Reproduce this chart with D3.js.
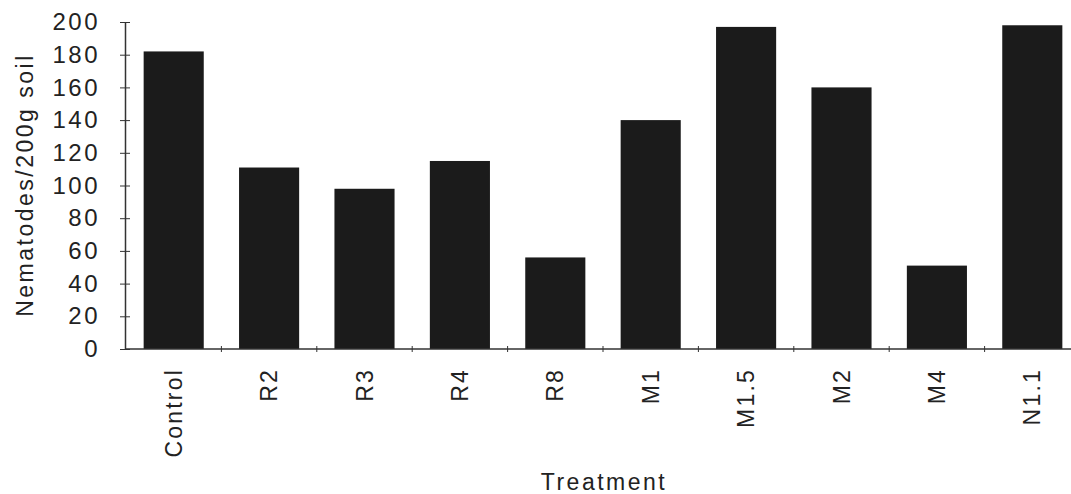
<!DOCTYPE html>
<html>
<head>
<meta charset="utf-8">
<script src="https://cdn.jsdelivr.net/npm/d3@7"></script>
<style>
  body { margin: 0; background: #fff; }
  svg text { font-family: "Liberation Sans", Arial, sans-serif; fill: #222; }
</style>
</head>
<body>
<svg></svg>
<script>
const treatments = ['Control', 'R2', 'R3', 'R4', 'R8', 'M1', 'M1.5', 'M2', 'M4', 'N1.1'];
const nematodes = [182, 111, 98, 115, 56, 140, 197, 160, 51, 198];
const yTicks = [0, 20, 40, 60, 80, 100, 120, 140, 160, 180, 200];

const available = { width: 1071, height: 494 };

const xScale = d3.scaleBand().domain(treatments).range([126, 1080]).paddingInner(0.37).paddingOuter(0.185);
const yScale = d3.scaleLinear().domain([0, 200]).range([349, 22]);

const svg = d3.select('svg')
  .attr('width', available.width)
  .attr('height', available.height);

// bars
svg.append('g').attr('class', 'bars')
  .selectAll('rect')
  .data(treatments)
  .enter()
  .append('rect')
  .attr('x', d => xScale(d))
  .attr('width', xScale.bandwidth())
  .attr('y', (d, i) => yScale(nematodes[i]))
  .attr('height', (d, i) => yScale(0) - yScale(nematodes[i]))
  .attr('fill', '#1b1b1b');

// y axis
const yAxis = svg.append('g')
  .attr('transform', 'translate(125,0)')
  .call(d3.axisLeft(yScale).tickValues(yTicks).tickSizeInner(5).tickSizeOuter(0).tickPadding(20));
yAxis.select('.domain').attr('stroke', '#333').attr('stroke-width', 1.5);
yAxis.selectAll('.tick line').attr('x2', 5).attr('x1', -5).attr('stroke', '#333');
yAxis.selectAll('.tick text')
  .style('font-size', '24px')
  .style('letter-spacing', '2.5px')
  .attr('fill', '#222');

// x axis line with ticks between categories
const xAxisG = svg.append('g').attr('class', 'x-axis');
xAxisG.append('line')
  .attr('x1', 125).attr('x2', 1071)
  .attr('y1', yScale(0)).attr('y2', yScale(0))
  .attr('stroke', '#333').attr('stroke-width', 1.5);
xAxisG.selectAll('.sep')
  .data(treatments.slice(1))
  .enter()
  .append('line')
  .attr('x1', d => xScale(d) - xScale.step() * xScale.paddingInner() / 2)
  .attr('x2', d => xScale(d) - xScale.step() * xScale.paddingInner() / 2)
  .attr('y1', yScale(0) - 3).attr('y2', yScale(0) + 3)
  .attr('stroke', '#333');

xAxisG.selectAll('.label')
  .data(treatments)
  .enter()
  .append('text')
  .attr('transform', d => `translate(${xScale(d) + xScale.bandwidth() / 2}, 368) rotate(-90)`)
  .attr('text-anchor', 'end')
  .attr('dy', '0.35em')
  .style('font-size', '23px')
  .style('letter-spacing', '2.2px')
  .text(d => d);

// axis titles
svg.append('text')
  .attr('transform', 'translate(33, 185) rotate(-90)')
  .attr('text-anchor', 'middle')
  .style('font-size', '23px')
  .style('letter-spacing', '2.5px')
  .text('Nematodes/200g soil');

svg.append('text')
  .attr('x', 604)
  .attr('y', 490)
  .attr('text-anchor', 'middle')
  .style('font-size', '23px')
  .style('letter-spacing', '2.5px')
  .text('Treatment');
</script>
</body>
</html>
